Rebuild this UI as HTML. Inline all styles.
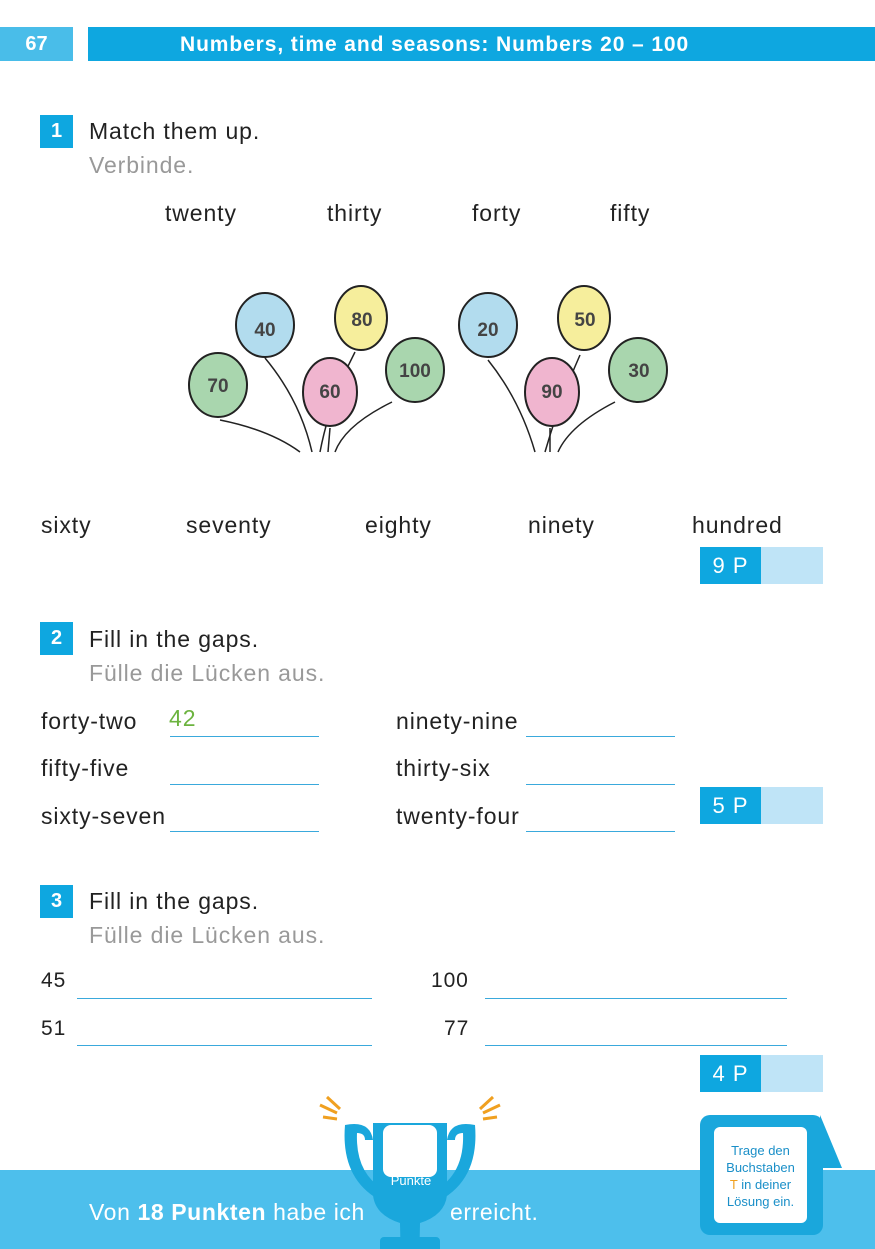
<!DOCTYPE html>
<html><head><meta charset="utf-8"><style>
body{margin:0;width:875px;height:1249px;position:relative;background:#fff;font-family:"Liberation Sans",sans-serif;color:#222;overflow:hidden}
.a{position:absolute;white-space:nowrap}
.t,.g,.w{font-size:23px;letter-spacing:0.9px}
.g{color:#999}
.num{position:absolute;width:33px;height:33px;background:#0ea7e0;color:#fff;font-weight:bold;font-size:20px;text-align:center;line-height:33px}
.line{position:absolute;height:1px;background:#3aa9dc}
.pt{position:absolute;width:123px;height:37px;background:#bfe4f7}
.pt div{width:61px;height:37px;background:#0ea7e0;color:#fff;font-size:22px;line-height:37px;text-align:center;letter-spacing:1px}
</style></head><body>
<div class="a" style="left:0;top:27px;width:73px;height:34px;background:#49bde9;color:#fff;font-weight:bold;font-size:20px;line-height:34px;text-align:center">67</div>
<div class="a" style="left:88px;top:27px;width:787px;height:34px;background:#0ea7e0;color:#fff;font-weight:bold;font-size:21px;letter-spacing:0.9px;line-height:36px;padding-left:92px;box-sizing:border-box">Numbers, time and seasons: Numbers 20 – 100</div>

<div class="num" style="left:40px;top:115px">1</div>
<div class="a t" style="left:89px;top:118px">Match them up.</div>
<div class="a g" style="left:89px;top:152px">Verbinde.</div>
<div class="a w" style="left:165px;top:200px">twenty</div>
<div class="a w" style="left:327px;top:200px">thirty</div>
<div class="a w" style="left:472px;top:200px">forty</div>
<div class="a w" style="left:610px;top:200px">fifty</div>

<svg class="a" style="left:180px;top:280px" width="500" height="175" viewBox="180 280 500 175" font-family="Liberation Sans" font-weight="bold" font-size="19" text-anchor="middle" fill="#444">
<g stroke="#222" stroke-width="1.5" fill="none">
<path d="M220 420 Q270 430 300 452"/><path d="M265 358 Q300 400 312 452"/><path d="M355 352 Q330 400 320 452"/><path d="M330 428 L328 452"/><path d="M392 402 Q345 425 335 452"/>
<path d="M488 360 Q520 400 535 452"/><path d="M580 355 Q560 400 545 452"/><path d="M550 428 L550 452"/><path d="M615 402 Q570 425 558 452"/>
</g>
<g stroke="#222" stroke-width="2">
<ellipse cx="218" cy="385" rx="29" ry="32" fill="#a9d6ae"/><text x="218" y="392" stroke="none">70</text>
<ellipse cx="265" cy="325" rx="29" ry="32" fill="#b2dcee"/><text x="265" y="336" stroke="none">40</text>
<ellipse cx="361" cy="318" rx="26" ry="32" fill="#f6ee9c"/><text x="362" y="326" stroke="none">80</text>
<ellipse cx="330" cy="392" rx="27" ry="34" fill="#f0b5cf"/><text x="330" y="398" stroke="none">60</text>
<ellipse cx="415" cy="370" rx="29" ry="32" fill="#a9d6ae"/><text x="415" y="377" stroke="none">100</text>
<ellipse cx="488" cy="325" rx="29" ry="32" fill="#b2dcee"/><text x="488" y="336" stroke="none">20</text>
<ellipse cx="584" cy="318" rx="26" ry="32" fill="#f6ee9c"/><text x="585" y="326" stroke="none">50</text>
<ellipse cx="552" cy="392" rx="27" ry="34" fill="#f0b5cf"/><text x="552" y="398" stroke="none">90</text>
<ellipse cx="638" cy="370" rx="29" ry="32" fill="#a9d6ae"/><text x="639" y="377" stroke="none">30</text>
</g></svg>

<div class="a w" style="left:41px;top:512px">sixty</div>
<div class="a w" style="left:186px;top:512px">seventy</div>
<div class="a w" style="left:365px;top:512px">eighty</div>
<div class="a w" style="left:528px;top:512px">ninety</div>
<div class="a w" style="left:692px;top:512px">hundred</div>
<div class="pt" style="left:700px;top:547px"><div>9 P</div></div>

<div class="num" style="left:40px;top:622px">2</div>
<div class="a t" style="left:89px;top:626px">Fill in the gaps.</div>
<div class="a g" style="left:89px;top:660px">Fülle die Lücken aus.</div>
<div class="a w" style="left:41px;top:708px">forty-two</div>
<div class="a w" style="left:169px;top:705px;color:#6cb33f">42</div>
<div class="a w" style="left:41px;top:755px">fifty-five</div>
<div class="a w" style="left:41px;top:803px">sixty-seven</div>
<div class="line" style="left:170px;top:736px;width:149px"></div>
<div class="line" style="left:170px;top:784px;width:149px"></div>
<div class="line" style="left:170px;top:831px;width:149px"></div>
<div class="a w" style="left:396px;top:708px">ninety-nine</div>
<div class="a w" style="left:396px;top:755px">thirty-six</div>
<div class="a w" style="left:396px;top:803px">twenty-four</div>
<div class="line" style="left:526px;top:736px;width:149px"></div>
<div class="line" style="left:526px;top:784px;width:149px"></div>
<div class="line" style="left:526px;top:831px;width:149px"></div>
<div class="pt" style="left:700px;top:787px"><div>5 P</div></div>

<div class="num" style="left:40px;top:885px">3</div>
<div class="a t" style="left:89px;top:888px">Fill in the gaps.</div>
<div class="a g" style="left:89px;top:922px">Fülle die Lücken aus.</div>
<div class="a w" style="left:41px;top:969px;font-size:21px">45</div>
<div class="a w" style="left:41px;top:1017px;font-size:21px">51</div>
<div class="a w" style="left:431px;top:969px;font-size:21px">100</div>
<div class="a w" style="left:444px;top:1017px;font-size:21px">77</div>
<div class="line" style="left:77px;top:998px;width:295px"></div>
<div class="line" style="left:77px;top:1045px;width:295px"></div>
<div class="line" style="left:485px;top:998px;width:302px"></div>
<div class="line" style="left:485px;top:1045px;width:302px"></div>
<div class="pt" style="left:700px;top:1055px"><div>4 P</div></div>

<div class="a" style="left:0;top:1170px;width:875px;height:79px;background:#4dbfec"></div>
<div class="a" style="left:89px;top:1199px;color:#fff;font-size:23px;letter-spacing:0.6px">Von <b>18 Punkten</b> habe ich</div>
<div class="a" style="left:450px;top:1199px;color:#fff;font-size:23px;letter-spacing:0.6px">erreicht.</div>
<svg class="a" style="left:315px;top:1095px" width="190" height="154">
<g stroke="#f0a020" stroke-width="3"><path d="M5 10 L22 18M12 2 L25 14M8 22 L22 24"/><path d="M185 10 L168 18M178 2 L165 14M182 22 L168 24"/></g>
<path d="M30 30 Q25 90 75 110 L80 100 Q40 85 42 38 Q50 38 50 45 L58 45 Q55 25 30 30Z" fill="#1aa7dc"/>
<path d="M160 30 Q165 90 115 110 L110 100 Q150 85 148 38 Q140 38 140 45 L132 45 Q135 25 160 30Z" fill="#1aa7dc"/>
<path d="M58 28 L132 28 L132 100 Q130 120 105 128 L104 175 L86 175 L85 128 Q60 120 58 100Z" fill="#1aa7dc"/>
<rect x="68" y="30" width="54" height="52" rx="8" fill="#fff"/>
<rect x="65" y="142" width="60" height="20" rx="4" fill="#1aa7dc"/>
<text x="96" y="90" fill="#fff" font-size="13" text-anchor="middle" font-family="Liberation Sans">Punkte</text>
</svg>
<svg class="a" style="left:690px;top:1110px" width="160" height="130">
<path d="M130 5 L152 58 L130 58Z" fill="#1aa7dc"/>
<rect x="10" y="5" width="123" height="120" rx="10" fill="#1aa7dc"/>
<rect x="24" y="17" width="93" height="96" rx="6" fill="#fff"/>
</svg>
<div class="a" style="left:714px;top:1142px;width:93px;text-align:center;color:#1a8fc8;font-size:13px;line-height:17px;white-space:normal">Trage den<br>Buchstaben<br><span style="color:#f0a020">T</span> in deiner<br>Lösung ein.</div>
</body></html>
